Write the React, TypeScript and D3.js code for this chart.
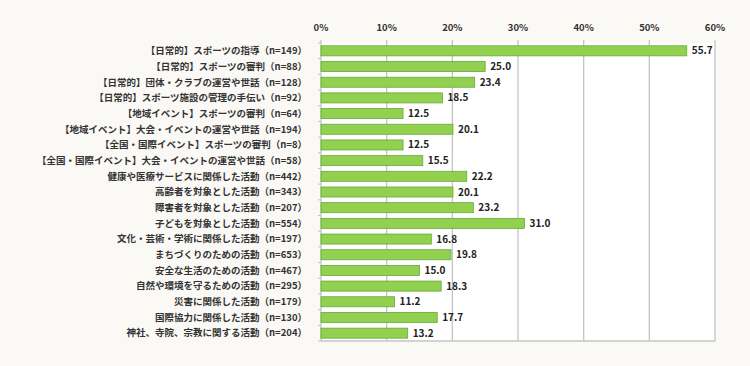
import React, { useEffect } from "react";
import * as d3 from "d3";

const categories = [
  "【日常的】スポーツの指導（n=149）",
  "【日常的】スポーツの審判（n=88）",
  "【日常的】団体・クラブの運営や世話（n=128）",
  "【日常的】スポーツ施設の管理の手伝い（n=92）",
  "【地域イベント】スポーツの審判（n=64）",
  "【地域イベント】大会・イベントの運営や世話（n=194）",
  "【全国・国際イベント】スポーツの審判（n=8）",
  "【全国・国際イベント】大会・イベントの運営や世話（n=58）",
  "健康や医療サービスに関係した活動（n=442）",
  "高齢者を対象とした活動（n=343）",
  "障害者を対象とした活動（n=207）",
  "子どもを対象とした活動（n=554）",
  "文化・芸術・学術に関係した活動（n=197）",
  "まちづくりのための活動（n=653）",
  "安全な生活のための活動（n=467）",
  "自然や環境を守るための活動（n=295）",
  "災害に関係した活動（n=179）",
  "国際協力に関係した活動（n=130）",
  "神社、寺院、宗教に関する活動（n=204）",
];

const values = [
  55.7, 25.0, 23.4, 18.5, 12.5, 20.1, 12.5, 15.5, 22.2, 20.1, 23.2, 31.0,
  16.8, 19.8, 15.0, 18.3, 11.2, 17.7, 13.2,
];

const ticks = [0, 10, 20, 30, 40, 50, 60];

const W = 750;
const H = 366;
const margin = { top: 43, right: 35, bottom: 25, left: 321 };

export default function App() {
  useEffect(() => {
    document.body.style.margin = "0";
    document.body.style.background = "#faf9f5";
  }, []);

  const x = d3
    .scaleLinear()
    .domain([0, 60])
    .range([margin.left, W - margin.right]);
  const y = d3
    .scaleBand()
    .domain(categories)
    .range([margin.top, H - margin.bottom])
    .paddingInner(0.36)
    .paddingOuter(0.18);

  const step = y.step();
  const font = "'Noto Sans CJK JP', 'Noto Sans', sans-serif";

  return (
    <svg
      width={W}
      height={H}
      style={{ display: "block", position: "absolute", left: 0, top: 0 }}
    >
      <rect width={W} height={H} fill="#faf9f5" />
      <rect
        x={margin.left}
        y={margin.top}
        width={x(60) - margin.left}
        height={H - margin.bottom - margin.top}
        fill="#ffffff"
      />
      {/* gridlines */}
      {ticks.map((t) => (
        <line
          key={t}
          x1={x(t)}
          x2={x(t)}
          y1={margin.top - 3}
          y2={H - margin.bottom}
          stroke="#c4c4c4"
          strokeWidth={1.3}
        />
      ))}
      <line
        x1={margin.left}
        x2={x(60)}
        y1={H - margin.bottom}
        y2={H - margin.bottom}
        stroke="#c4c4c4"
        strokeWidth={1.3}
      />
      {/* small ticks on category axis */}
      {d3.range(categories.length + 1).map((i) => {
        const yy = margin.top + i * step;
        return (
          <line
            key={i}
            x1={margin.left - 3}
            x2={margin.left}
            y1={yy}
            y2={yy}
            stroke="#c4c4c4"
            strokeWidth={1}
          />
        );
      })}
      {/* axis labels */}
      {ticks.map((t) => (
        <text
          key={t}
          x={x(t)}
          y={31}
          textAnchor="middle"
          fontFamily={font}
          fontWeight="bold"
          fontSize={9.5}
          fill="#333"
        >
          {t}%
        </text>
      ))}
      {/* bars */}
      {categories.map((c, i) => (
        <g key={c}>
          <rect
            x={x(0)}
            y={y(c)!}
            width={x(values[i]) - x(0)}
            height={y.bandwidth()}
            fill="#92d050"
            stroke="#6aa838"
            strokeWidth={0.8}
          />
          <text
            x={x(values[i]) + 5}
            y={y(c)! + y.bandwidth() / 2}
            dy="0.35em"
            fontFamily={font}
            fontWeight="bold"
            fontSize={10}
            fill="#222"
          >
            {values[i].toFixed(1)}
          </text>
          <text
            x={margin.left - 14}
            y={y(c)! + y.bandwidth() / 2}
            dy="0.35em"
            textAnchor="end"
            fontFamily={font}
            fontWeight="bold"
            fontSize={9.5}
            fill="#333"
          >
            {c}
          </text>
        </g>
      ))}
    </svg>
  );
}
